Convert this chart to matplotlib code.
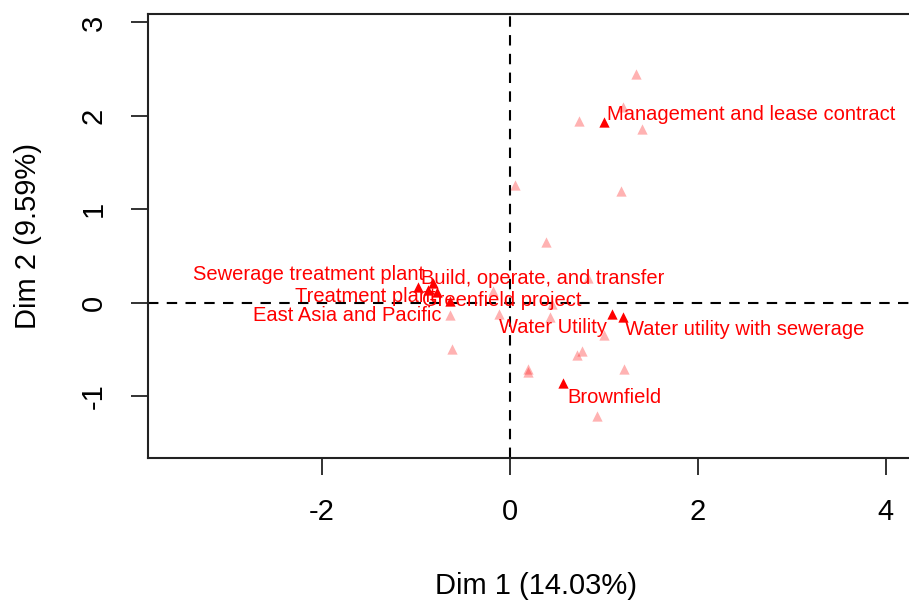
import matplotlib
matplotlib.use("Agg")
import matplotlib.pyplot as plt

plt.rcParams['font.family'] = ['Liberation Sans', 'DejaVu Sans']
plt.rcParams['axes.unicode_minus'] = False

# categories with labels (dark red)
labels = ["Management and lease contract", "Sewerage treatment plant",
          "Build, operate, and transfer", "Treatment plant",
          "Greenfield project", "East Asia and Pacific", "Water Utility",
          "Water utility with sewerage", "Brownfield"]
dim1 = [1.00, -0.98, -0.82, -0.78, -0.64, -0.87, 1.09, 1.20, 0.57]
dim2 = [1.93, 0.17, 0.21, 0.12, 0.02, 0.14, -0.12, -0.15, -0.86]

# where each label sits (left edge, middle)
lab_x = [1.03, -3.37, -0.95, -2.29, -0.93, -2.73, -0.11, 1.23, 0.61]
lab_y = [2.01, 0.30, 0.26, 0.07, 0.03, -0.14, -0.26, -0.28, -1.01]

# other categories (transparent)
other1 = [1.34, 0.74, 1.20, 1.41, 0.06, 1.18, 0.39, 0.83, -0.18, -0.64, -0.11,
          0.43, 0.45, 1.00, -0.61, 0.77, 0.72, 0.19, 0.19, 1.21, 0.93]
other2 = [2.45, 1.95, 2.10, 1.86, 1.26, 1.20, 0.65, 0.27, 0.13, -0.13, -0.12,
          -0.15, -0.01, -0.34, -0.49, -0.51, -0.56, -0.74, -0.71, -0.71, -1.21]

xticks = [-2, 0, 2, 4]
yticks = [-1, 0, 1, 2, 3]

fig = plt.figure(figsize=(9.09, 6.02), dpi=100)
ax = fig.add_axes([0.1628, 0.2392, 0.853, 0.7375])

ax.scatter(other1, other2, marker='^', s=55, color='red', alpha=0.3, linewidths=0)
ax.scatter(dim1, dim2, marker='^', s=55, color='red', linewidths=0)
for lab, x, y in zip(labels, lab_x, lab_y):
    ax.text(x, y, lab, color='red', fontsize=14.5, ha='left', va='center')

ax.axhline(0, color='black', lw=1.5, ls=(0, (5, 4)), zorder=0)
ax.axvline(0, color='black', lw=1.5, ls=(0, (5, 4)), zorder=0)

ax.set_xlim(-3.85, 4.4)
ax.set_ylim(-1.66, 3.09)
ax.set_xticks(xticks)
ax.set_yticks(yticks)
ax.set_yticklabels([str(t) for t in yticks], rotation=90, va='center')
ax.tick_params(axis='both', length=12, width=1.3, labelsize=21, pad=17, color='#222222')
for sp in ax.spines.values():
    sp.set_linewidth(1.5)
    sp.set_color('#222222')

ax.set_xlabel("Dim 1 (14.03%)", fontsize=21, labelpad=33)
ax.set_ylabel("Dim 2 (9.59%)", fontsize=21, labelpad=27)

fig.savefig("out.png", dpi=100)
